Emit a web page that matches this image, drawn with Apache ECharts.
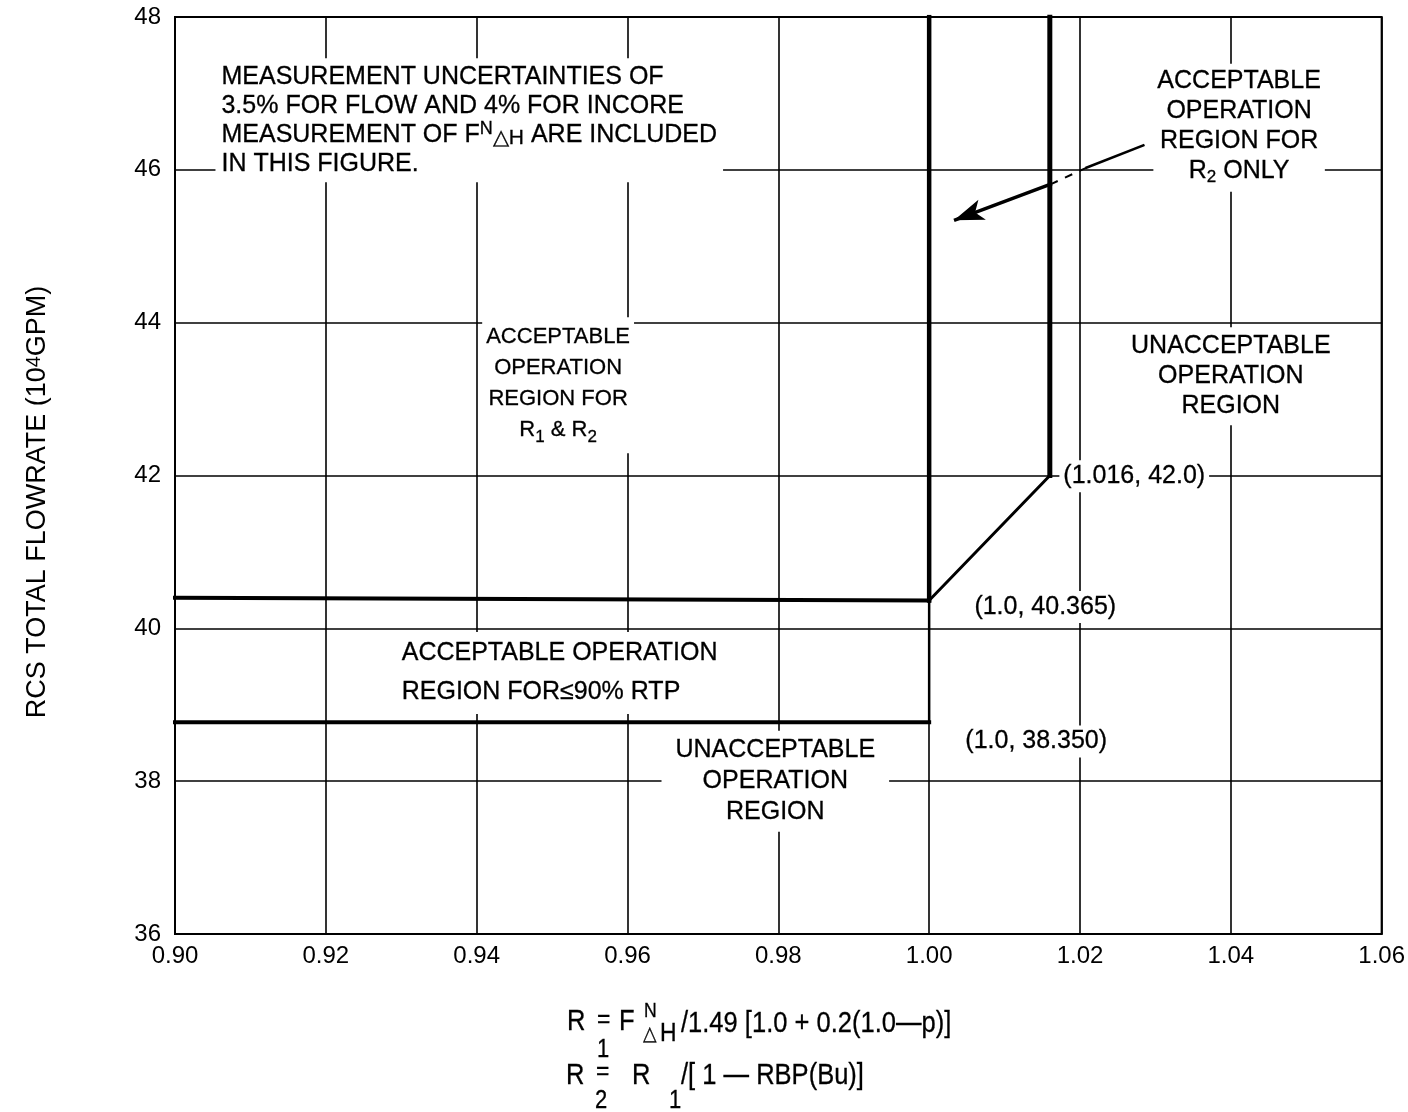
<!DOCTYPE html>
<html><head><meta charset="utf-8">
<script src="https://cdn.jsdelivr.net/npm/echarts@6/dist/echarts.min.js"></script>
<style>html,body{margin:0;padding:0;background:#fff}#c{width:1408px;height:1112px}</style>
</head><body><div id="c"></div>
<script>
// ---- data ----
const xRange = [0.90, 1.06];
const xStep = 0.02;
const yRange = [36, 48];
const yStep = 2;
const limit90Flow   = [[0.90, 38.77], [1.00, 38.77]];
const limit90Riser  = [[1.00, 38.77], [1.00, 40.365]];
const limitR1Flow   = [[0.90, 40.40], [1.00, 40.365]];
const limitR1Ratio  = [[1.00, 40.365], [1.00, 48.0]];
const limitR2Ramp   = [[1.00, 40.365], [1.016, 42.0]];
const limitR2Ratio  = [[1.016, 42.0], [1.016, 48.0]];
const arrowLead     = [[1.0284, 46.32], [1.0209, 46.03]];
const arrowDash     = [[1.0209, 46.03], [1.0163, 45.82]];
const arrowHead     = [[1.0163, 45.82], [1.0033, 45.34]];

const FONT = '"Liberation Sans", Arial, Helvetica, sans-serif';
const INK = '#000';
const subStyle = {fontSize: 17, fontFamily: FONT, color: INK, verticalAlign: 'bottom', lineHeight: 2};
const supStyle = {fontSize: 18, fontFamily: FONT, color: INK, verticalAlign: 'top', lineHeight: 2};
const subDeep  = {fontSize: 21, fontFamily: FONT, color: INK, verticalAlign: 'bottom', lineHeight: 2};

// text annotations
const notes = [
  {text: 'MEASUREMENT UNCERTAINTIES OF\n3.5% FOR FLOW AND 4% FOR INCORE\nMEASUREMENT OF F{u|N}{d|△H} ARE INCLUDED\nIN THIS FIGURE.', at: [0.9053, 46.65], fs: 25, lh: 29, pos: 'right', align: 'left', pad: [4, 6, 4, 6]},
  {text: 'ACCEPTABLE\nOPERATION\nREGION FOR\nR{s|2} ONLY', at: [1.0411, 46.55], fs: 25, lh: 30, pos: 'inside', align: 'center', pad: [2, 4, 6, 4]},
  {text: 'ACCEPTABLE\nOPERATION\nREGION FOR\nR{s|1} & R{s|2}', at: [0.9508, 43.18], fs: 22, lh: 31, pos: 'inside', align: 'center', pad: [4, 4, 8, 4]},
  {text: 'UNACCEPTABLE\nOPERATION\nREGION', at: [1.0400, 43.30], fs: 25, lh: 30, pos: 'inside', align: 'center', pad: [4, 4, 4, 4]},
  {text: '(1.016, 42.0)', at: [1.0172, 41.99], fs: 25, lh: 28, pos: 'right', align: 'left', pad: [2, 4, 2, 4]},
  {text: '(1.0, 40.365)', at: [1.0054, 40.28], fs: 25, lh: 28, pos: 'right', align: 'left', pad: [2, 4, 2, 4]},
  {text: 'ACCEPTABLE OPERATION\nREGION FOR≤90% RTP', at: [0.9292, 39.415], fs: 25, lh: 39, pos: 'right', align: 'left', pad: [2, 6, 2, 6]},
  {text: '(1.0, 38.350)', at: [1.0042, 38.52], fs: 25, lh: 28, pos: 'right', align: 'left', pad: [2, 4, 2, 4]},
  {text: 'UNACCEPTABLE\nOPERATION\nREGION', at: [0.9796, 38.00], fs: 25, lh: 31, pos: 'inside', align: 'center', pad: [4, 14, 4, 14]}
];

// x-axis caption (formula), pieces of text: [text, left x, centre y, font size]
const formula = [
  ['R', 567, 1022, 29], ['1', 597, 1050, 25], ['=', 597, 1020, 26], ['F', 619, 1022, 29],
  ['N', 644, 1011, 20], ['△', 643, 1034, 20], ['H', 660, 1034, 26],
  ['/1.49 [1.0 + 0.2(1.0—p)]', 681, 1024, 29],
  ['R', 566, 1076, 29], ['2', 595, 1101, 25], ['=', 596, 1072, 26], ['R', 632, 1076, 29],
  ['1', 669, 1101, 25], ['/[ 1 — RBP(Bu)]', 681, 1076, 29]
];

function lineSeries(name, data, width) {
  return {
    name, type: 'line', data, symbol: 'none', silent: true, z: 3,
    lineStyle: {color: INK, width, cap: 'square'}
  };
}

const chart = echarts.init(document.getElementById('c'), null, {renderer: 'canvas'});
chart.setOption({
  backgroundColor: '#fff',
  animation: false,
  grid: {left: 175, right: 25, top: 17, bottom: 178, show: true, borderColor: INK, borderWidth: 2},
  graphic: [
    {type: 'text', x: 38, y: 502, rotation: Math.PI / 2, silent: true,
     style: {text: 'RCS TOTAL FLOWRATE (10{sup|4}GPM)', fontSize: 27, fontFamily: FONT, fill: INK,
       align: 'center', verticalAlign: 'middle',
       rich: {sup: {fontSize: 20, fontFamily: FONT, fill: INK, verticalAlign: 'top', lineHeight: 14}}}}
  ].concat(formula.map(p => ({
    type: 'text', x: p[1], y: p[2], scaleX: 0.88, silent: true,
    style: {text: p[0], fontSize: p[3], fontFamily: FONT, fill: INK, align: 'left', verticalAlign: 'middle',
      stroke: INK, lineWidth: 0.3}
  }))),
  xAxis: {
    type: 'value', min: xRange[0], max: xRange[1], interval: xStep,
    axisLine: {show: true, lineStyle: {color: INK, width: 2}},
    axisTick: {show: false},
    splitLine: {show: true, lineStyle: {color: INK, width: 1.6}},
    axisLabel: {color: INK, fontSize: 24, fontFamily: FONT, margin: 10,
      formatter: v => v.toFixed(2)}
  },
  yAxis: {
    type: 'value', min: yRange[0], max: yRange[1], interval: yStep,
    axisLine: {show: true, lineStyle: {color: INK, width: 2}},
    axisTick: {show: false},
    splitLine: {show: true, lineStyle: {color: INK, width: 1.6}},
    axisLabel: {color: INK, fontSize: 24, fontFamily: FONT, margin: 14}
  },
  series: [
    lineSeries('90% RTP limit', limit90Flow, 4),
    lineSeries('90% RTP riser', limit90Riser, 2.5),
    lineSeries('R1 flow limit', limitR1Flow, 4),
    lineSeries('R1 ratio limit', limitR1Ratio, 4.5),
    lineSeries('R2 ramp', limitR2Ramp, 3),
    lineSeries('R2 ratio limit', limitR2Ratio, 5),
    lineSeries('arrow lead', arrowLead, 2.5),
    {name: 'arrow dash', type: 'line', data: arrowDash, symbol: 'none', silent: true, z: 3,
     lineStyle: {color: INK, width: 2, type: [8, 8]}},
    {name: 'arrow', type: 'line', data: [], silent: true, z: 4,
     markLine: {silent: true, animation: false, symbol: ['none', 'arrow'], symbolSize: [16, 30],
       label: {show: false},
       lineStyle: {color: INK, width: 3.5, type: 'solid'},
       data: [[{coord: arrowHead[0]}, {coord: arrowHead[1]}]]}},
    {name: 'notes', type: 'scatter', silent: true, z: 5,
     symbolSize: 1, itemStyle: {color: 'rgba(0,0,0,0)', opacity: 1},
     data: notes.map(n => ({
       value: n.at,
       label: {
         show: true, position: n.pos, distance: 0, formatter: n.text,
         color: INK, fontSize: n.fs, lineHeight: n.lh, fontFamily: FONT, align: n.align,
         backgroundColor: '#fff', padding: n.pad, opacity: 1,
         textBorderColor: INK, textBorderWidth: 0.3,
         rich: {s: subStyle, u: supStyle, d: subDeep}
       }
     }))}
  ]
});
</script></body></html>
